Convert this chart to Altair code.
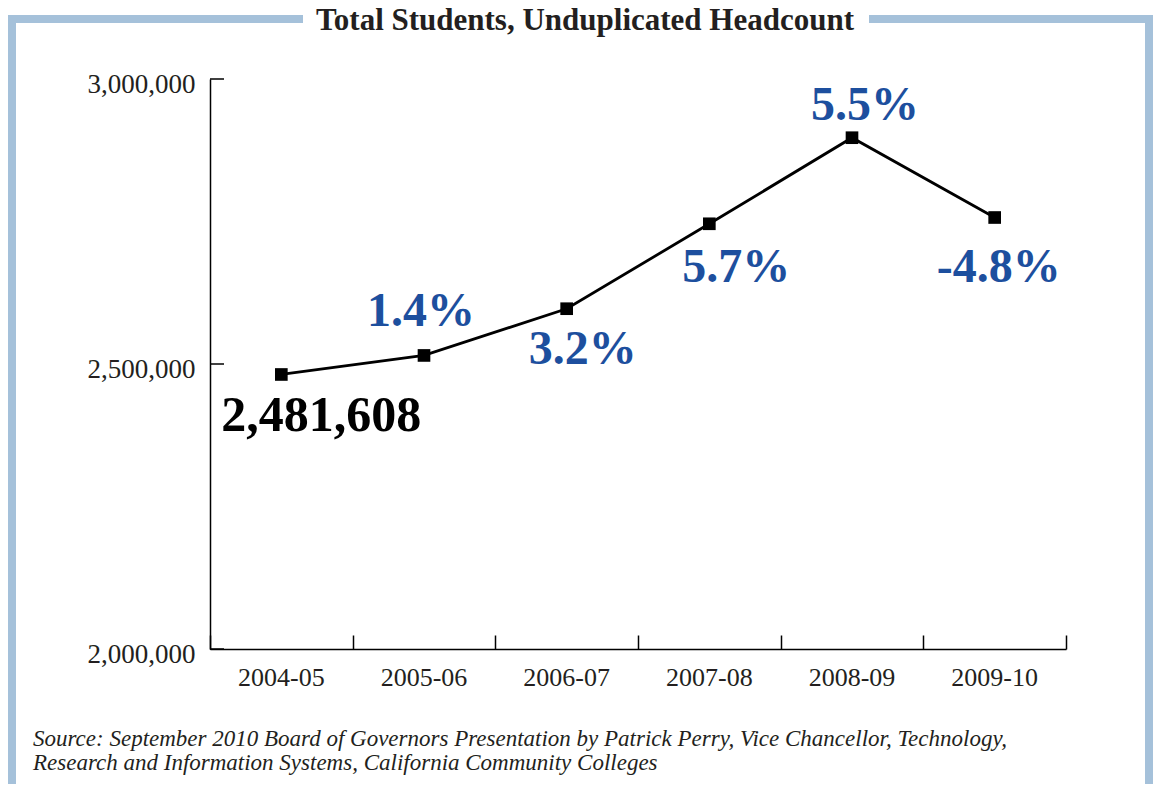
import altair as alt
import pandas as pd

years = ["2004-05", "2005-06", "2006-07", "2007-08", "2008-09", "2009-10"]
headcount = [2481608, 2515000, 2597000, 2746000, 2897000, 2757000]
labels = ["2,481,608", "1.4%", "3.2%", "5.7%", "5.5%", "-4.8%"]
y_ticks = [2000000, 2500000, 3000000]

title_text = "Total Students, Unduplicated Headcount"
source_lines = [
    "Source: September 2010 Board of Governors Presentation by Patrick Perry, Vice Chancellor, Technology,",
    "Research and Information Systems, California Community Colleges",
]

df = pd.DataFrame({"year": years, "headcount": headcount, "label": labels})
tick_df = pd.DataFrame({"v": y_ticks})
one = pd.DataFrame({"k": [0]})

W, H = 856, 570
SERIF = "Liberation Serif"
INK = "#231f20"
BLUE = "#1d4f9e"
FRAME = "#a5c1da"

xscale = alt.Scale(type="band", domain=years, paddingInner=0, paddingOuter=0)
yscale = alt.Scale(domain=[2000000, 3000000], nice=False, zero=False)

base = alt.Chart(df)

# main axes (labels + domain lines)
line = base.mark_line(color="black", strokeWidth=2.8).encode(
    x=alt.X("year:N", scale=xscale, sort=years,
            axis=alt.Axis(orient="bottom", title=None, ticks=False, labelAngle=0,
                          labelFont=SERIF, labelFontSize=26, labelColor=INK,
                          labelPadding=15, domainColor="black", domainWidth=1.5)),
    y=alt.Y("headcount:Q", scale=yscale,
            axis=alt.Axis(orient="left", title=None, ticks=False, grid=False,
                          values=y_ticks, format=",d", labelFont=SERIF,
                          labelFontSize=27, labelColor=INK, labelPadding=15,
                          labelOffset=5, domainColor="black", domainWidth=1.5)),
)

# inward-pointing x tick marks (top-oriented axis moved to the bottom edge)
xticks = base.mark_point(opacity=0).encode(
    x=alt.X("year:N", scale=xscale, sort=years,
            axis=alt.Axis(orient="top", offset=-H, title=None, labels=False,
                          domain=False, ticks=True, tickSize=14, tickBand="extent",
                          tickColor="black", tickWidth=1.5)),
    y=alt.Y("headcount:Q", scale=yscale, axis=None),
)

# inward-pointing y tick marks
yticks = alt.Chart(tick_df).mark_rule(color="black", strokeWidth=1.5).encode(
    y=alt.Y("v:Q", scale=yscale, axis=None),
    x=alt.value(0), x2=alt.value(14),
)

points = base.mark_square(color="black", size=160, opacity=1).encode(
    x=alt.X("year:N", scale=xscale, sort=years, axis=None),
    y=alt.Y("headcount:Q", scale=yscale, axis=None),
)

offsets = {
    "2004-05": (40, 42, "black", 50),
    "2005-06": (-3, -43, BLUE, 48),
    "2006-07": (16, 41, BLUE, 48),
    "2007-08": (27, 44, BLUE, 48),
    "2008-09": (13, -32, BLUE, 48),
    "2009-10": (4, 50, BLUE, 48),
}
label_layers = []
for yr, (dx, dy, col, fs) in offsets.items():
    label_layers.append(
        base.transform_filter(alt.datum.year == yr)
        .mark_text(font=SERIF, fontWeight="bold", fontSize=fs, color=col,
                   dx=dx, dy=dy, align="center", baseline="middle")
        .encode(
            x=alt.X("year:N", scale=xscale, sort=years, axis=None),
            y=alt.Y("headcount:Q", scale=yscale, axis=None),
            text="label:N",
        )
    )

frame = alt.Chart(one).mark_rect(filled=False, stroke=FRAME, strokeWidth=8).encode(
    x=alt.value(-198), x2=alt.value(W + 83),
    y=alt.value(-60), y2=alt.value(H + 150),
)
title_bg = alt.Chart(one).mark_rect(color="white").encode(
    x=alt.value(93), x2=alt.value(659), y=alt.value(-68), y2=alt.value(-50),
)
title = alt.Chart(one).mark_text(
    text=title_text, font=SERIF, fontWeight="bold", fontSize=31, color=INK,
    align="center", baseline="alphabetic",
).encode(x=alt.value(375), y=alt.value(-49))

source = alt.Chart(one).mark_text(
    text=source_lines, font=SERIF, fontStyle="italic", fontSize=23, color=INK,
    align="left", baseline="alphabetic", lineHeight=24,
).encode(x=alt.value(-177), y=alt.value(667))

chart = (
    alt.layer(frame, title_bg, title, source, xticks, yticks, line, points, *label_layers)
    .resolve_axis(x="independent", y="independent")
    .properties(
        width=W, height=H,
        autosize=alt.AutoSizeParams(type="none"),
        padding={"left": 202, "top": 71, "right": 87, "bottom": 135},
        background="white",
    )
    .configure_view(stroke=None)
)

chart.save("out.html", embed_options={"renderer": "svg", "actions": False})
